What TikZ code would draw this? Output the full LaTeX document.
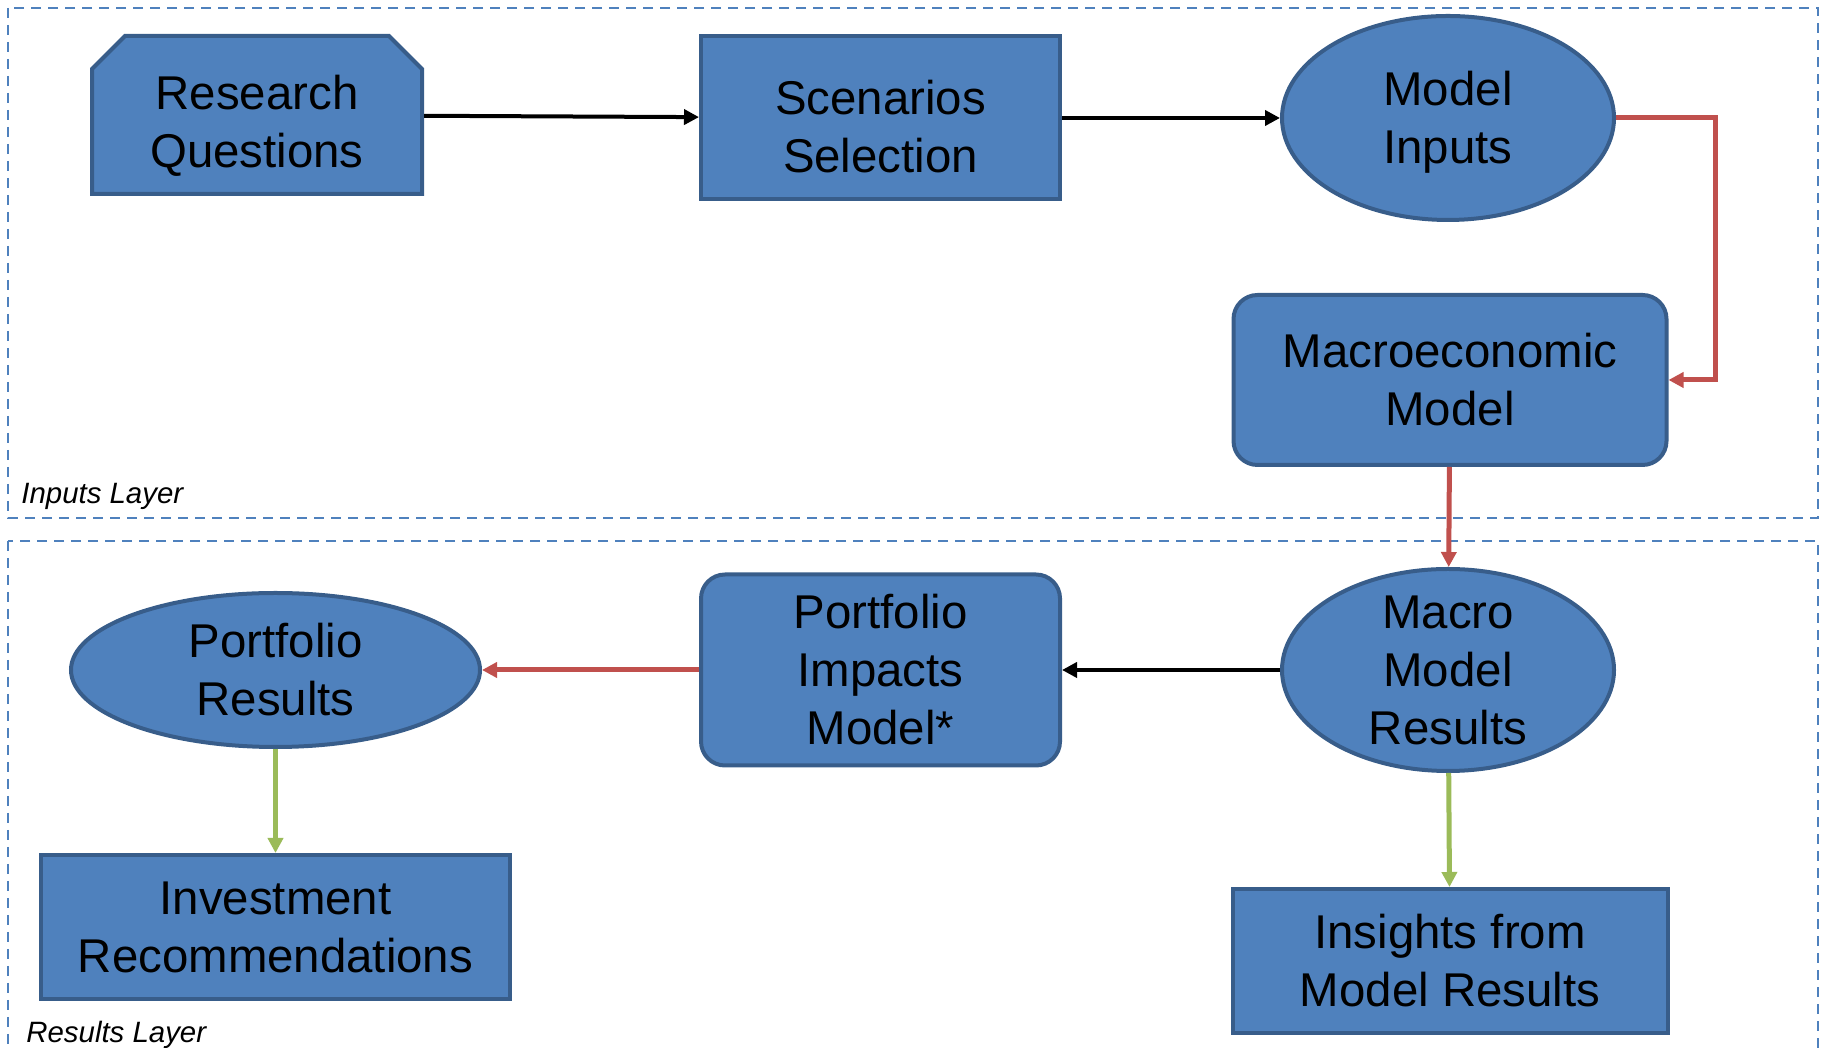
\documentclass[tikz,border=0pt]{standalone}
\usepackage{fontspec}
\setmainfont{Liberation Sans}
\usepackage{xcolor}
\usepackage{tikz}
\usetikzlibrary{arrows.meta,positioning,shapes.geometric,shapes.misc}

\definecolor{boxblue}{RGB}{79,129,189}
\definecolor{edgeblue}{RGB}{56,93,138}
\definecolor{linkred}{RGB}{192,80,77}
\definecolor{linkgreen}{RGB}{155,187,89}

\begin{document}
\begin{tikzpicture}[
  font=\fontsize{23.7}{29}\selectfont,
  box/.style={draw=edgeblue, line width=2pt, fill=boxblue, align=center, inner sep=0pt},
  cbox/.style={box, chamfered rectangle, chamfered rectangle corners={north west,north east}, chamfered rectangle xsep=13pt},
  rbox/.style={box, rounded corners=12pt},
  oval/.style={box, ellipse, inner sep=-8pt},
  textdrop/.style={execute at begin node={\rule{0pt}{#1}}},
  arrow/.style={-{Triangle[length=7.5pt,width=7.5pt]}, line width=2pt},
  redarrow/.style={arrow, draw=linkred, line width=2.5pt},
  greenarrow/.style={arrow, draw=linkgreen, line width=2.5pt},
  layer/.style={draw=boxblue, line width=0.8pt, dash pattern=on 5pt off 3.5pt},
  layername/.style={font=\fontsize{14.7}{17}\selectfont\itshape, anchor=base west, inner sep=0pt}
]
\useasboundingbox (0,0) rectangle (912pt,524pt);

% the two layers
\draw[layer] (4pt,520pt) rectangle (909pt,265pt);
\draw[layer] (4pt,253.5pt) rectangle (909pt,-20pt);
\node[layername] (inlayer) at (10.5pt,272pt) {Inputs Layer};
\node[layername] (reslayer) at (13pt,2.5pt) {Results Layer};

% inputs layer
\node[cbox, textdrop=57.3pt, minimum width=165pt, minimum height=79pt] (rq) at (128.5pt,466.5pt) {Research\\Questions};
\node[box, textdrop=54.6pt, minimum width=179.5pt, minimum height=81.5pt, right=137.5pt of rq, yshift=-1.5pt] (ss) {Scenarios\\Selection};
\node[oval, textdrop=50.9pt, minimum width=166pt, minimum height=102pt, right=109pt of ss] (mi) {Model\\Inputs};
\node[rbox, minimum width=216.5pt, minimum height=85pt, below=35.5pt of mi, xshift=1pt] (mm) {Macroeconomic\\Model};

% results layer
\node[oval, minimum width=166pt, minimum height=101pt, below=50pt of mm, xshift=-1pt] (mmr) {Macro\\Model\\Results};
\node[rbox, minimum width=179.5pt, minimum height=95.5pt, left=109pt of mmr] (pim) {Portfolio\\Impacts\\Model*};
\node[oval, minimum width=204.5pt, minimum height=77pt, left=108.5pt of pim] (pr) {Portfolio\\Results};
\node[box, minimum width=234.5pt, minimum height=72pt, below=52pt of pr] (ir) {Investment\\Recommendations};
\node[box, minimum width=217.5pt, minimum height=72pt, below=57pt of mmr, xshift=1pt] (ins) {Insights from\\Model Results};

\draw[arrow] (rq) -- (ss);
\draw[arrow] (ss) -- (mi);
\draw[redarrow] (mi.east) -- ++(49.5pt,0) |- (mm.east);
\draw[redarrow] (mm) -- (mmr);
\draw[arrow] (mmr) -- (pim);
\draw[redarrow] (pim) -- (pr);
\draw[greenarrow] (pr) -- (ir);
\draw[greenarrow] (mmr) -- (ins);
\end{tikzpicture}
\end{document}
